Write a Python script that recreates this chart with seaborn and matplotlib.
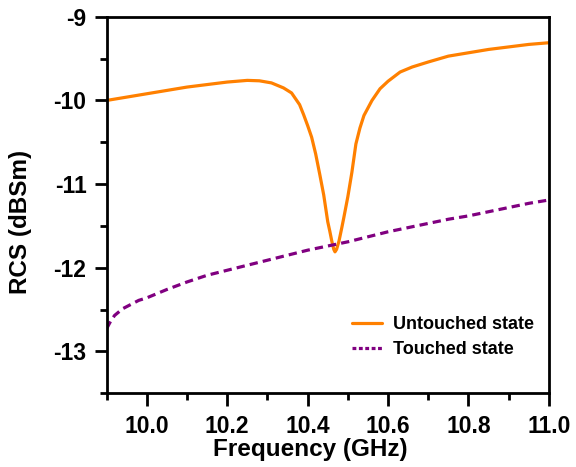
import matplotlib
matplotlib.use("Agg")
import matplotlib.pyplot as plt
from matplotlib.ticker import MultipleLocator
import seaborn as sns
import pandas as pd

untouched_freq = [9.90, 9.95, 10.00, 10.05, 10.10, 10.15, 10.20, 10.25, 10.28, 10.31,
                  10.34, 10.36, 10.38, 10.39, 10.40, 10.41, 10.42, 10.43, 10.44, 10.45,
                  10.455, 10.46, 10.465, 10.468, 10.472, 10.478, 10.485, 10.49, 10.50, 10.51,
                  10.52, 10.53, 10.54, 10.56, 10.58, 10.60, 10.63, 10.66, 10.70, 10.75,
                  10.80, 10.85, 10.90, 10.95, 11.00]
untouched_rcs = [-10.00, -9.96, -9.92, -9.88, -9.84, -9.81, -9.78, -9.76, -9.765, -9.79,
                 -9.85, -9.91, -10.05, -10.17, -10.30, -10.44, -10.64, -10.88, -11.13, -11.45,
                 -11.56, -11.68, -11.78, -11.81, -11.78, -11.68, -11.52, -11.40, -11.15, -10.86,
                 -10.52, -10.33, -10.18, -10.00, -9.86, -9.77, -9.66, -9.60, -9.54, -9.47,
                 -9.43, -9.39, -9.36, -9.33, -9.31]

touched_freq = [9.90, 9.91, 9.92, 9.94, 9.96, 9.98, 10.00, 10.05, 10.10, 10.15, 10.20,
                10.25, 10.30, 10.35, 10.40, 10.45, 10.50, 10.55, 10.60, 10.65, 10.70,
                10.75, 10.80, 10.85, 10.90, 10.95, 11.00]
touched_rcs = [-12.73, -12.64, -12.57, -12.49, -12.44, -12.39, -12.36, -12.26, -12.17, -12.09, -12.03,
               -11.97, -11.91, -11.85, -11.79, -11.74, -11.69, -11.63, -11.57, -11.52, -11.47,
               -11.42, -11.38, -11.33, -11.28, -11.23, -11.19]

series_labels = ["Untouched state", "Touched state"]
x_label = "Frequency (GHz)"
y_label = "RCS (dBSm)"
x_ticks = [10.0, 10.2, 10.4, 10.6, 10.8, 11.0]
y_ticks = [-13, -12, -11, -10, -9]

sns.set_style("ticks", {"axes.edgecolor": "black", "text.color": "black",
                        "xtick.color": "black", "ytick.color": "black",
                        "axes.labelcolor": "black"})
plt.rcParams["font.family"] = ["Liberation Sans", "DejaVu Sans"]
plt.rcParams["font.weight"] = "bold"

fig = plt.figure(figsize=(5.76, 4.67), dpi=100)
ax = fig.add_axes([0.185, 0.158, 0.768, 0.806])

df_u = pd.DataFrame({"f": untouched_freq, "rcs": untouched_rcs})
df_t = pd.DataFrame({"f": touched_freq, "rcs": touched_rcs})

sns.lineplot(data=df_u, x="f", y="rcs", ax=ax, color="#FF8000", lw=2.3,
             label=series_labels[0], sort=False)
sns.lineplot(data=df_t, x="f", y="rcs", ax=ax, color="#800080", lw=2.3,
             label=series_labels[1], sort=False)
ax.lines[1].set_dashes([2.6, 1.6])

ax.set_xlim(9.9, 11.0)
ax.set_ylim(-13.5, -9)
ax.xaxis.set_minor_locator(MultipleLocator(0.1))
ax.yaxis.set_minor_locator(MultipleLocator(0.5))
ax.set_xticks(x_ticks)
ax.set_xticklabels([f"{t:.1f}" for t in x_ticks])
ax.set_yticks(y_ticks)
ax.set_yticklabels([str(t) for t in y_ticks])

for s in ax.spines.values():
    s.set_linewidth(2.0)
    s.set_color("black")
    s.set_visible(True)
ax.tick_params(which="major", direction="out", length=9, width=2, labelsize=16.5,
               color="black", labelcolor="black")
ax.tick_params(axis="x", which="major", pad=6.5)
ax.tick_params(axis="y", which="major", pad=5.5)
ax.tick_params(which="minor", direction="out", length=5, width=2, color="black")
ax.tick_params(top=False, right=False, which="both")
for lab in ax.get_xticklabels() + ax.get_yticklabels():
    lab.set_fontweight("bold")

ax.set_xlabel(x_label, fontsize=17.5, fontweight="bold", color="black")
ax.set_ylabel(y_label, fontsize=17.5, fontweight="bold", color="black")
ax.yaxis.set_label_coords(-0.168, 0.455)
ax.xaxis.set_label_coords(0.46, -0.118)
ax.xaxis.label.set_va("top")

leg = ax.legend(loc="lower right", bbox_to_anchor=(1.004, 0.05), frameon=False,
                prop={"size": 13, "weight": "bold"}, handlelength=1.65,
                handletextpad=0.65, labelspacing=0.46, labelcolor="black")
leg.get_lines()[1].set_dashes([1.2, 0.8])

fig.savefig("out.png", dpi=100)
